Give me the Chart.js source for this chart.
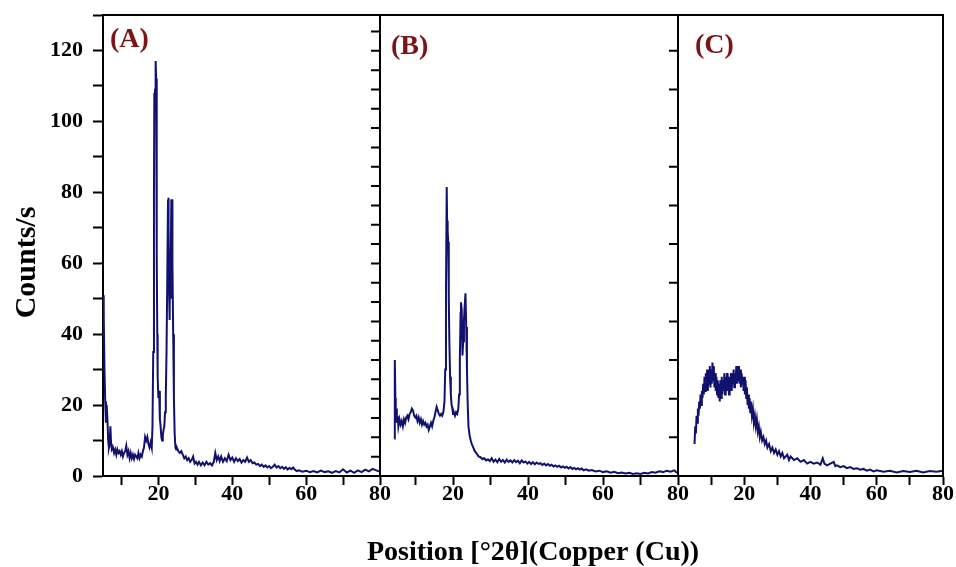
<!DOCTYPE html>
<html>
<head>
<meta charset="utf-8">
<title>XRD patterns</title>
<script src="https://cdn.jsdelivr.net/npm/chart.js@4.4.1/dist/chart.umd.min.js"></script>
<style>
    html, body { margin: 0; padding: 0; background: #fff; }
    canvas { display: block; }
</style>
</head>
<body>
<canvas id="xrdChart" width="956" height="567"></canvas>
<script>
// ---- data (x = position °2θ, y = counts/s) ----
const anglesA = [5.0, 5.2, 5.4, 5.6, 5.8, 6.0, 6.2, 6.4, 6.6, 6.8, 7.0, 7.2, 7.4, 7.7, 8.0, 8.3, 8.6, 8.9, 9.2, 9.5,
    9.8, 10.1, 10.4, 10.7, 11.0, 11.3, 11.6, 11.9, 12.2, 12.5, 12.8, 13.1, 13.4, 13.7, 14.0, 14.3, 14.6, 14.9, 15.2, 15.5,
    15.8, 16.1, 16.4, 16.7, 17.0, 17.3, 17.6, 17.9, 18.2, 18.4, 18.6, 18.8, 18.9, 19.0, 19.1, 19.2, 19.3, 19.4, 19.5, 19.6,
    19.7, 19.8, 20.0, 20.2, 20.4, 20.6, 20.8, 21.0, 21.2, 21.4, 21.6, 21.8, 22.0, 22.2, 22.4, 22.6, 22.7, 22.8, 22.9, 23.0,
    23.1, 23.2, 23.3, 23.4, 23.5, 23.6, 23.7, 23.8, 24.0, 24.2, 24.4, 24.6, 24.8, 25.0, 25.4, 25.8, 26.2, 26.6, 27.0, 27.4,
    27.8, 28.2, 28.6, 29.0, 29.4, 29.8, 30.2, 30.6, 31.0, 31.5, 32.0, 32.5, 33.0, 33.5, 34.0, 34.5, 35.0, 35.4, 35.8, 36.2,
    36.6, 37.0, 37.5, 38.0, 38.5, 39.0, 39.5, 40.0, 40.5, 41.0, 41.5, 42.0, 42.5, 43.0, 43.5, 44.0, 44.5, 45.0, 45.5, 46.0,
    46.5, 47.0, 47.5, 48.0, 48.5, 49.0, 49.5, 50.0, 50.5, 51.0, 51.5, 52.0, 52.5, 53.0, 53.5, 54.0, 54.5, 55.0, 55.5, 56.0,
    56.5, 57.0, 57.5, 58.0, 59.0, 60.0, 61.0, 62.0, 63.0, 64.0, 65.0, 66.0, 67.0, 68.0, 69.0, 70.0, 71.0, 72.0, 73.0, 74.0,
    75.0, 76.0, 77.0, 78.0, 79.0, 80.0];
const countsA = [51, 45, 30, 21, 15, 20, 16, 10, 8, 9, 14, 9, 7.5, 8, 6.5, 7.5, 6, 7.5, 6.5, 7,
    6, 7, 5.5, 6.5, 7, 8.5, 6, 7, 5, 6.5, 5, 6, 4.8, 6, 5.5, 5, 6.5, 5, 6, 5.5,
    7, 8, 11, 10, 11, 9, 8, 9.5, 8, 14, 35, 80, 108, 107, 109, 116, 117, 112, 90, 62,
    40, 28, 22, 24, 16, 14, 11, 10, 11.5, 13, 14, 18, 22, 35, 55, 78, 78.5, 70, 52, 44,
    48, 55, 50, 62, 78, 77, 78, 60, 40, 22, 12, 8, 7.5, 8, 7, 6.5, 7, 6, 5, 5.5,
    4.5, 5, 4, 4.5, 5.5, 3.5, 4, 3.2, 4, 3, 3.8, 3, 4, 3.2, 3.6, 3, 4, 6.5, 4.5, 5.5,
    4.2, 5.5, 4, 5, 4.2, 6, 4.5, 5.2, 4, 5, 4.2, 4.8, 3.8, 4.5, 4, 5.2, 4, 4.5, 3.6, 3.8,
    3.2, 3.4, 2.8, 3.2, 2.6, 3, 2.4, 2.8, 2.2, 2.6, 3.2, 2.4, 2.8, 2.2, 2.6, 2, 2.5, 1.8, 2.3, 1.9,
    2.4, 1.7, 1.4, 1.6, 1.2, 1.5, 1.1, 1.4, 1.0, 1.5, 1.1, 1.3, 0.9, 1.4, 1.0, 1.9, 1.0, 1.5, 0.9, 1.6,
    1.1, 1.8, 1.3, 2.0, 1.6, 1.2];

const anglesB = [4.3, 4.4, 4.5, 4.6, 4.7, 4.85, 5.0, 5.2, 5.4, 5.7, 6.0, 6.3, 6.6, 6.9, 7.2, 7.5, 7.8, 8.1, 8.4, 8.7,
    9.0, 9.3, 9.6, 9.9, 10.2, 10.5, 10.8, 11.1, 11.4, 11.7, 12.0, 12.3, 12.6, 12.9, 13.2, 13.5, 13.8, 14.1, 14.4, 14.7,
    15.0, 15.3, 15.6, 15.9, 16.2, 16.5, 16.8, 17.1, 17.4, 17.7, 17.9, 18.1, 18.3, 18.4, 18.5, 18.6, 18.7, 18.8, 18.9, 19.0,
    19.2, 19.4, 19.6, 19.8, 20.0, 20.2, 20.5, 20.8, 21.1, 21.4, 21.6, 21.8, 22.0, 22.1, 22.3, 22.5, 22.7, 22.9, 23.1, 23.3,
    23.5, 23.7, 23.9, 24.1, 24.4, 24.7, 25.0, 25.4, 25.8, 26.3, 26.8, 27.3, 27.8, 28.3, 28.8, 29.3, 29.8, 30.3, 30.8, 31.3,
    31.8, 32.3, 32.8, 33.3, 33.8, 34.3, 34.8, 35.3, 35.8, 36.3, 36.8, 37.3, 37.8, 38.3, 38.8, 39.3, 39.8, 40.3, 40.8, 41.3,
    41.8, 42.3, 42.8, 43.3, 43.8, 44.3, 44.8, 45.3, 45.8, 46.3, 46.8, 47.3, 47.8, 48.3, 48.8, 49.3, 49.8, 50.3, 50.8, 51.3,
    51.8, 52.3, 52.8, 53.3, 53.8, 54.3, 54.8, 55.5, 56.2, 57.0, 58.0, 59.0, 60.0, 61.0, 62.0, 63.0, 64.0, 65.0, 66.0, 67.0,
    68.0, 69.0, 70.0, 71.0, 72.0, 73.0, 74.0, 75.0, 76.0, 77.0, 78.0, 79.0, 79.5, 80.0];
const countsB = [10.6, 25, 32.7, 22, 17, 19, 15, 17, 14, 16, 14.5, 15.5, 14, 16, 15, 16.5, 17, 16, 17.5, 18,
    19, 18.5, 17, 16.5, 17, 15.5, 16.5, 15, 16, 14.5, 15.5, 14.5, 15, 14, 14.5, 13, 14, 15, 14, 15.5,
    16.5, 18, 19.5, 18.5, 17.5, 17, 17.5, 17, 18, 21, 30, 52, 81.5, 72, 68, 69, 66, 55, 50, 38,
    28, 23, 20, 19, 17.5, 18, 17, 18, 17.5, 19, 23, 33, 46, 49, 47, 34, 38, 44, 48, 51.5,
    42, 30, 20, 14, 11.5, 10, 9, 8, 7, 6.3, 5.5, 5.3, 4.8, 5, 4.4, 4.7, 4.2, 5, 4, 4.6,
    3.9, 4.8, 4, 4.5, 3.8, 4.6, 4, 4.4, 3.8, 4.5, 3.9, 4.3, 3.6, 4.4, 3.8, 4.1, 3.5, 4, 3.4, 3.9,
    3.3, 3.8, 3.4, 3.6, 3.1, 3.5, 3, 3.4, 2.9, 3.2, 2.7, 3, 2.6, 2.9, 2.4, 2.7, 2.3, 2.6, 2.1, 2.5,
    2, 2.3, 1.9, 2.2, 1.8, 2.1, 1.6, 1.9, 1.5, 1.7, 1.3, 1.5, 1.1, 1.3, 0.9, 1.2, 0.8, 1.0, 0.7, 0.9,
    0.6, 0.8, 0.6, 0.9, 0.7, 1.1, 0.9, 1.3, 1.1, 1.5, 1.2, 1.6, 1.1, 0.9];

const anglesC = [5.0, 5.2, 5.4, 5.6, 5.8, 6.0, 6.2, 6.4, 6.6, 6.8, 7.0, 7.2, 7.4, 7.6, 7.8, 8.0, 8.2, 8.4, 8.6, 8.8,
    9.0, 9.2, 9.4, 9.6, 9.8, 10.0, 10.2, 10.4, 10.6, 10.8, 11.0, 11.2, 11.4, 11.6, 11.8, 12.0, 12.2, 12.4, 12.6, 12.8,
    13.0, 13.2, 13.4, 13.6, 13.8, 14.0, 14.2, 14.4, 14.6, 14.8, 15.0, 15.2, 15.4, 15.6, 15.8, 16.0, 16.2, 16.4, 16.6, 16.8,
    17.0, 17.2, 17.4, 17.6, 17.8, 18.0, 18.2, 18.4, 18.6, 18.8, 19.0, 19.2, 19.4, 19.6, 19.8, 20.0, 20.2, 20.4, 20.6, 20.8,
    21.0, 21.2, 21.4, 21.6, 21.8, 22.0, 22.3, 22.6, 22.9, 23.2, 23.5, 23.8, 24.1, 24.4, 24.7, 25.0, 25.4, 25.8, 26.2, 26.6,
    27.0, 27.5, 28.0, 28.5, 29.0, 29.5, 30.0, 30.5, 31.0, 31.5, 32.0, 33.0, 33.5, 34.0, 35.0, 36.0, 37.0, 38.0, 39.0, 40.0,
    41.0, 42.0, 43.0, 43.7, 44.2, 45.0, 46.0, 47.0, 47.5, 48.0, 49.0, 50.0, 51.0, 52.0, 53.0, 54.0, 55.0, 56.0, 57.0, 58.0,
    59.0, 60.0, 62.0, 64.0, 66.0, 68.0, 70.0, 72.0, 74.0, 76.0, 78.0, 80.0];
const countsC = [9, 14, 12, 17, 15, 19, 17, 21, 19, 23, 20, 24, 22, 26, 23, 28, 24, 29, 25, 30,
    24, 29, 26, 31, 25, 30, 26, 32, 27, 31, 25, 29, 24, 28, 23, 27, 22, 26, 21, 27,
    22, 28, 23, 27, 24, 29, 23, 28, 25, 29, 24, 27, 23, 28, 25, 29, 24, 28, 26, 30,
    25, 29, 26, 31, 26, 30, 27, 31, 26, 30, 25, 29, 26, 28, 24, 28, 23, 27, 22, 25,
    20, 23, 19, 22, 18, 21, 17, 19, 15, 17, 14, 16, 12.5, 14, 11, 12.5, 10, 11, 9, 10,
    8, 9, 7, 8, 6.5, 7.5, 6, 7, 5.5, 6.5, 5, 6, 4.5, 5.5, 4.5, 5, 4, 4.5, 3.5, 4,
    3.5, 3.8, 3.2, 5, 3.5, 3, 3.5, 4, 2.8, 3, 2.5, 2.8, 2.2, 2.5, 2, 2.2, 1.8, 2, 1.5, 1.8,
    1.3, 1.6, 1.2, 1.5, 1, 1.4, 1.1, 1.5, 1, 1.4, 1.2, 1.5];

const panelLabels = ['(A)', '(B)', '(C)'];
const panelMin = [5, 0.5, 0];
const panelMax = [80, 80, 80];
const xTickValues = [10, 20, 30, 40, 50, 60, 70, 80];
const xLabelValues = [20, 40, 60, 80];
const yTickStep = 10;
const yLabelStep = 20;
const xTitle = 'Position [°2θ](Copper (Cu))';
const yTitle = 'Counts/s';

// ---- look ----
const lineColor = '#12126e';
const panelIds = ['xA', 'xB', 'xC'];
const panelWidths = [277, 298, 265];
const labelOffsets = [[7, 25], [11, 32], [17, 31]];
const sideTickSteps = [5.45, 10.9];
const serif = '"Liberation Serif", "Times New Roman", serif';

const toPoints = (xs, ys) => xs.map((x, i) => ({x: x, y: ys[i]}));
const seriesData = [toPoints(anglesA, countsA), toPoints(anglesB, countsB), toPoints(anglesC, countsC)];

const panelFrame = {
    id: 'panelFrame',
    afterDatasetsDraw(chart) {
        const {ctx, chartArea, scales} = chart;
        const yScale = scales.y;
        ctx.save();
        ctx.strokeStyle = '#000';
        ctx.lineWidth = 2;
        ctx.beginPath();
        ctx.moveTo(chartArea.left, chartArea.top);
        ctx.lineTo(chartArea.right, chartArea.top);
        panelIds.forEach(id => {
            const s = scales[id];
            ctx.moveTo(s.right, chartArea.top - 1);
            ctx.lineTo(s.right, chartArea.bottom);
        });
        // ticks of the inner panels' own axes, pointing back into the previous panel
        sideTickSteps.forEach((step, i) => {
            const x = scales[panelIds[i]].right;
            for (let v = step; v < yScale.max; v += step) {
                const y = yScale.getPixelForValue(v);
                ctx.moveTo(x, y);
                ctx.lineTo(x - 9, y);
            }
        });
        ctx.stroke();

        ctx.font = 'bold 28px ' + serif;
        ctx.fillStyle = '#7b1414';
        ctx.textBaseline = 'middle';
        panelIds.forEach((id, i) => {
            ctx.fillText(panelLabels[i], scales[id].left + labelOffsets[i][0], chartArea.top + labelOffsets[i][1]);
        });

        // shared axis titles (span all three panels)
        ctx.fillStyle = '#000';
        ctx.textAlign = 'center';
        ctx.font = 'bold 28px ' + serif;
        ctx.fillText(xTitle, (chartArea.left + chartArea.right) / 2 + 10, chartArea.bottom + 77);

        ctx.font = 'bold 30px ' + serif;
        ctx.translate(yScale.left + 27, (chartArea.top + chartArea.bottom) / 2 + 17);
        ctx.rotate(-Math.PI / 2);
        ctx.fillText(yTitle, 0, 0);
        ctx.restore();
    }
};

const xScale = (i) => ({
    type: 'linear',
    position: 'bottom',
    stack: 'panels',
    stackWeight: panelWidths[i],
    min: panelMin[i],
    max: panelMax[i],
    afterBuildTicks: scale => {
        scale.ticks = xTickValues.filter(v => v > scale.min && v <= scale.max).map(v => ({value: v}));
    },
    afterFit: scale => { scale.height = 91; },
    ticks: {
        autoSkip: false,
        maxRotation: 0,
        padding: -4,
        color: '#000',
        font: {family: serif, size: 22, weight: 'bold'},
        callback: v => xLabelValues.includes(v) ? String(v) : ''
    },
    grid: {drawOnChartArea: false, tickLength: 9, tickWidth: 2, tickColor: '#000'},
    border: {display: true, color: '#000', width: 2}
});

const ctx = document.getElementById('xrdChart').getContext('2d');
const xrdChart = new Chart(ctx, {
    type: 'line',
    data: {
        datasets: seriesData.map((pts, i) => ({
            label: panelLabels[i],
            data: pts,
            xAxisID: panelIds[i],
            yAxisID: 'y',
            borderColor: lineColor,
            borderWidth: 2,
            pointRadius: 0,
            tension: 0,
            fill: false
        }))
    },
    options: {
        responsive: false,
        animation: false,
        layout: {padding: {top: 15, right: 13, left: 0, bottom: 0}},
        scales: {
            xA: xScale(0),
            xB: xScale(1),
            xC: xScale(2),
            y: {
                type: 'linear',
                position: 'left',
                min: 0,
                max: 130,
                afterFit: scale => { scale.width = 103; },
                ticks: {
                    stepSize: yTickStep,
                    autoSkip: false,
                    padding: 10,
                    color: '#000',
                    font: {family: serif, size: 22, weight: 'bold', lineHeight: 0.4},
                    callback: v => v % yLabelStep === 0 ? String(v) : ''
                },
                grid: {drawOnChartArea: false, tickLength: 10, tickWidth: 2, tickColor: '#000'},
                border: {display: true, color: '#000', width: 2}
            }
        },
        plugins: {
            legend: {display: false},
            tooltip: {enabled: false}
        }
    },
    plugins: [panelFrame]
});
</script>
</body>
</html>
